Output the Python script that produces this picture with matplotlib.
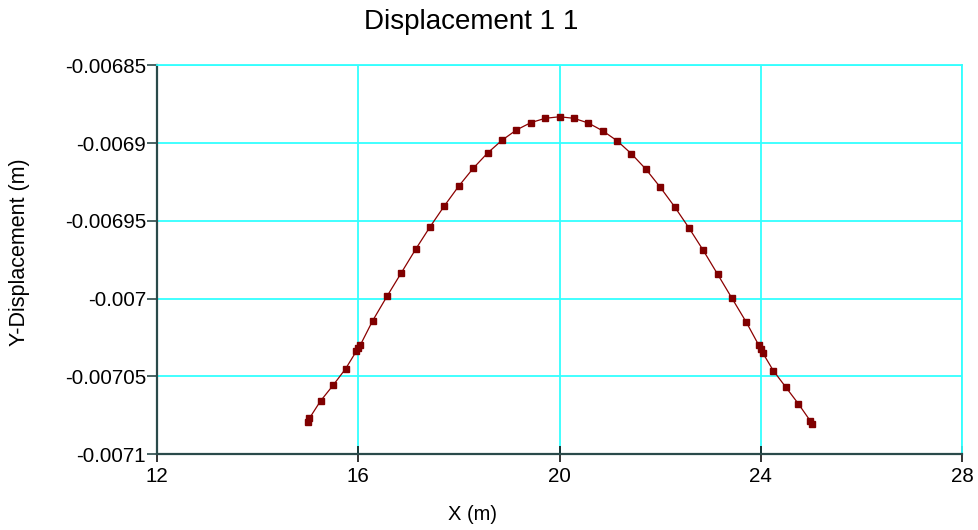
import matplotlib.pyplot as plt

plt.rcParams['font.family'] = ['Liberation Sans', 'DejaVu Sans']

# -------------------------
# Data
# -------------------------
x_pos = [15.0, 15.03, 15.25, 15.5, 15.75, 15.96, 16.0, 16.04,
         16.286, 16.571, 16.857, 17.143, 17.429, 17.714, 18.0,
         18.286, 18.571, 18.857, 19.143, 19.429, 19.714, 20.0,
         20.286, 20.571, 20.857, 21.143, 21.429, 21.714, 22.0,
         22.286, 22.571, 22.857, 23.143, 23.429, 23.714,
         23.96, 24.0, 24.04, 24.25, 24.5, 24.75, 24.98, 25.02]
y_disp = [-0.0070795, -0.007077, -0.0070659, -0.0070558, -0.0070451,
          -0.007034, -0.0070318, -0.00703,
          -0.0070143, -0.0069986, -0.0069834, -0.0069682, -0.0069538,
          -0.0069403, -0.0069276, -0.0069162, -0.0069064, -0.0068982,
          -0.0068916, -0.0068869, -0.0068841, -0.0068831,
          -0.0068841, -0.0068871, -0.0068921, -0.0068985, -0.0069069,
          -0.0069167, -0.0069283, -0.0069409, -0.0069545, -0.006969,
          -0.0069844, -0.0069999, -0.0070153,
          -0.00703, -0.0070325, -0.007035,
          -0.0070464, -0.0070571, -0.0070678, -0.0070785, -0.0070805]

x_ticks = [12, 16, 20, 24, 28]
y_ticks = [-0.0071, -0.00705, -0.007, -0.00695, -0.0069, -0.00685]
y_tick_labels = ['-0.0071', '-0.00705', '-0.007', '-0.00695', '-0.0069', '-0.00685']

# -------------------------
# Plot
# -------------------------
fig = plt.figure(figsize=(9.79, 5.30), dpi=100)
ax = fig.add_axes([157 / 979, 1 - 454 / 530, 805 / 979, 388.7 / 530])

ax.plot(x_pos, y_disp, '-', color='#8B0000', lw=0.9,
        marker='s', ms=4.5, mfc='#800000', mec='#800000', zorder=3)

ax.set_xlim(12, 28)
ax.set_ylim(-0.0071, -0.00685)
ax.set_xticks(x_ticks)
ax.set_xticklabels([str(t) for t in x_ticks])
ax.set_yticks(y_ticks)
ax.set_yticklabels(y_tick_labels)

ax.grid(True, color='#33FFFF', lw=1.3)
ax.set_axisbelow(True)

for side in ['left', 'bottom']:
    ax.spines[side].set_color('#2A4A4A')
    ax.spines[side].set_linewidth(1.6)
for side in ['top', 'right']:
    ax.spines[side].set_color('#33FFFF')
    ax.spines[side].set_linewidth(1.3)

ax.tick_params(axis='y', direction='out', length=7, width=1.2,
               color='#2A4A4A', labelsize=14.8, pad=1)
ax.tick_params(axis='x', direction='inout', length=12, width=1.2,
               color='#111111', labelsize=14.8, pad=3)

fig.text(471 / 979, 1 - 22 / 530, 'Displacement 1 1', fontsize=20,
         ha='center', va='center')
fig.text(473 / 979, 1 - 515 / 530, 'X (m)', fontsize=14.5,
         ha='center', va='center')
fig.text(20 / 979, 1 - 252 / 530, 'Y-Displacement (m)', fontsize=15.5,
         rotation=90, ha='center', va='center')

fig.savefig('out.png', dpi=100)
